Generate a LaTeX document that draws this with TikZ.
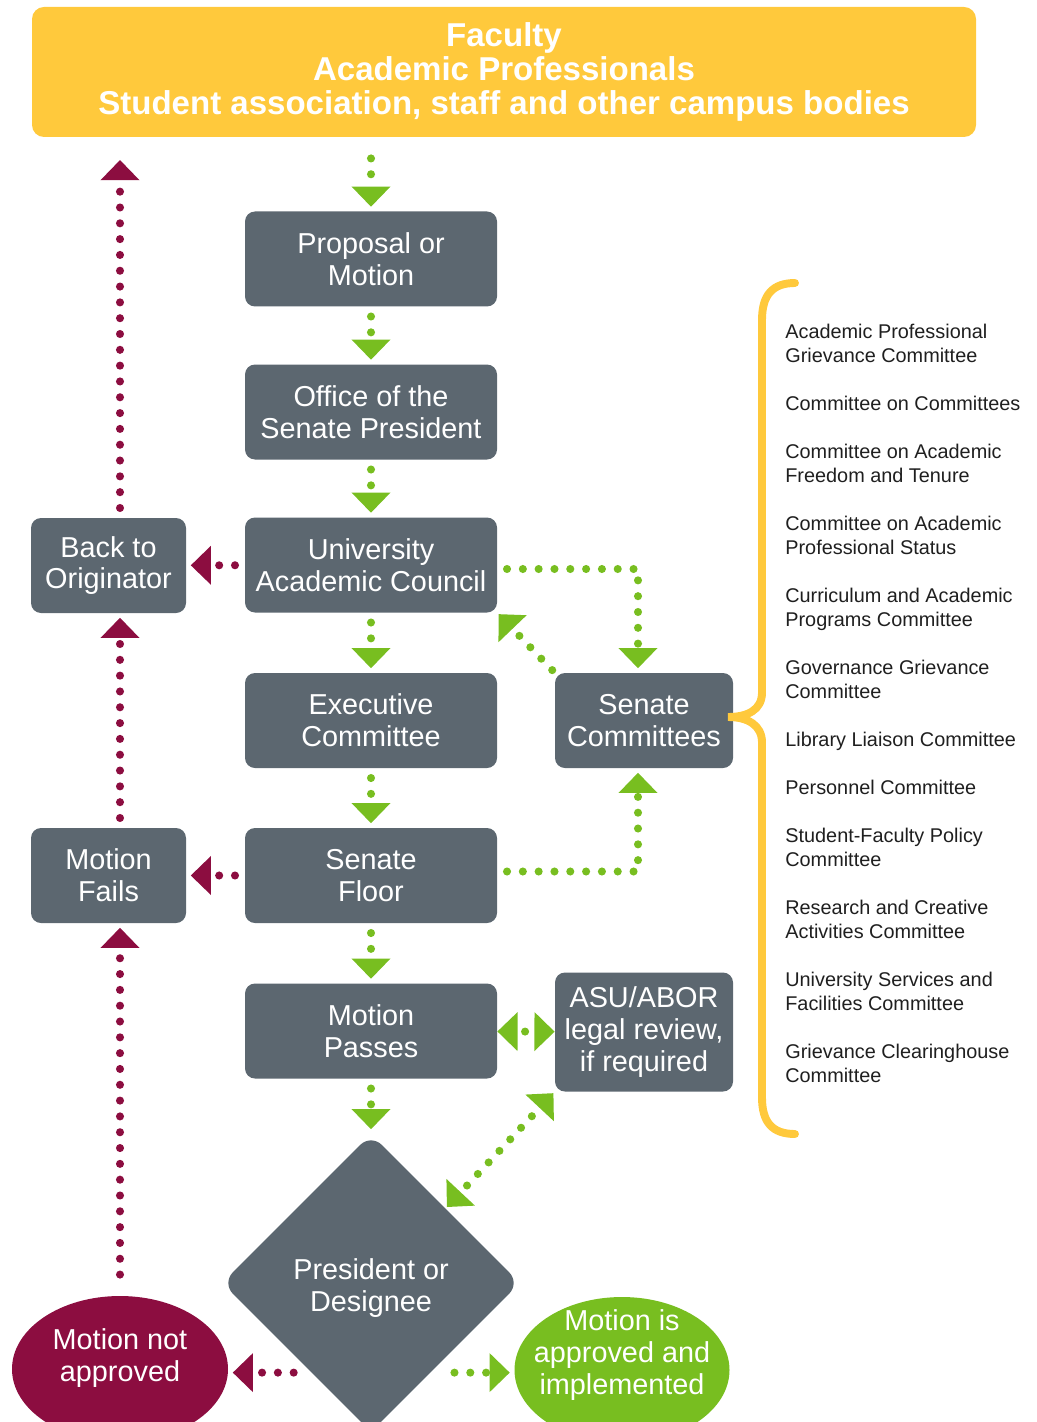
\documentclass[tikz,border=0pt]{standalone}
\usepackage{fontspec}
\setmainfont{Liberation Sans}
\usetikzlibrary{arrows.meta,shapes.geometric}

\definecolor{asugold}{HTML}{FFC93C}
\definecolor{asugray}{HTML}{5C6770}
\definecolor{asumaroon}{HTML}{8C0D40}
\definecolor{asugreen}{HTML}{78BE20}

\begin{document}
\begin{tikzpicture}[
    box/.style={fill=asugray, rounded corners=0.2cm, minimum width=5.04cm, minimum height=1.9cm,
        inner sep=0pt, text=white, align=center, font=\fontsize{16.4}{18.1}\selectfont},
    boxtext/.style={text=white, align=center, inner sep=0pt, font=\fontsize{16.4}{18.1}\selectfont},
    flow/.style={line width=4.6pt, dash pattern=on 0pt off 9pt, line cap=round,
        >={Triangle[width=21.5pt,length=11.5pt]}, ->, shorten <=5.5pt, shorten >=2.5pt},
    goflow/.style={flow, asugreen},
    stopflow/.style={flow, asumaroon}
]
    \useasboundingbox (0,0) rectangle (20.72,-28.44);

    % who can bring a motion
    \node[fill=asugold, rounded corners=0.24cm, minimum width=18.88cm, minimum height=2.6cm,
        text=white, align=center, font=\fontsize{18.8}{19.3}\selectfont\bfseries] (campus) at (10.08,-1.44)
        {Faculty\\Academic Professionals\\Student association, staff and other campus bodies};

    % main column
    \foreach \n/\y/\t in {prop/-5.18/{Proposal or\\Motion}, office/-8.24/{Office of the\\Senate President},
        uac/-11.30/{University\\Academic Council}, exec/-14.41/{Executive\\Committee},
        floor/-17.51/{Senate\\Floor}, passes/-20.62/{Motion\\Passes}}
        \node[box] (\n) at (7.42,\y) {\t};

    \node[box, minimum width=3.1cm] (back) at (2.17,-11.31) {Back to\\Originator};
    \node[box, minimum width=3.1cm] (fails) at (2.17,-17.51) {Motion\\Fails};
    \node[box, minimum width=3.56cm] (sc) at (12.88,-14.41) {Senate\\Committees};
    \node[box, minimum width=3.56cm, minimum height=2.38cm] (asu) at (12.88,-20.64) {ASU/ABOR\\legal review,\\if required};

    \node[diamond, fill=asugray, rounded corners=0.3cm, minimum width=5.96cm, minimum height=5.96cm,
        inner sep=0pt] (dm) at (7.42,-25.66) {};
    \node[boxtext] (dmtext) at (7.42,-25.76) {President or\\Designee};
    \node[ellipse, fill=asumaroon, minimum width=4.32cm, minimum height=2.92cm, inner sep=0pt] (nna) at (2.4,-27.38) {};
    \node[boxtext] (nnatext) at (2.4,-27.16) {Motion not\\approved};
    \node[ellipse, fill=asugreen, minimum width=4.3cm, minimum height=2.92cm, inner sep=0pt] (ok) at (12.44,-27.4) {};
    \node[boxtext] (oktext) at (12.44,-27.1) {Motion is\\approved and\\implemented};

    % senate committees
    \draw[asugold, line width=4.5pt, line cap=round] (15.9,-5.66) .. controls (15.45,-5.66) and (15.24,-5.9) .. (15.24,-6.4)
        -- (15.24,-13.85) .. controls (15.24,-14.2) and (14.95,-14.34) .. (14.56,-14.34)
        .. controls (14.95,-14.34) and (15.24,-14.5) .. (15.24,-14.85)
        -- (15.24,-21.95) .. controls (15.24,-22.45) and (15.45,-22.68) .. (15.9,-22.68);
    \node[anchor=north west, align=left, inner sep=0pt, text=black!88, font=\fontsize{11.3}{13.66}\selectfont] (list) at (15.7,-6.48)
        {Academic Professional\\Grievance Committee\\[13.66pt]
         Committee on Committees\\[13.66pt]
         Committee on Academic\\Freedom and Tenure\\[13.66pt]
         Committee on Academic\\Professional Status\\[13.66pt]
         Curriculum and Academic\\Programs Committee\\[13.66pt]
         Governance Grievance\\Committee\\[13.66pt]
         Library Liaison Committee\\[13.66pt]
         Personnel Committee\\[13.66pt]
         Student-Faculty Policy\\Committee\\[13.66pt]
         Research and Creative\\Activities Committee\\[13.66pt]
         University Services and\\Facilities Committee\\[13.66pt]
         Grievance Clearinghouse\\Committee};

    % green flow
    \draw[goflow, shorten <=12pt] (prop |- campus.south) -- (prop);
    \foreach \a/\b in {prop/office, office/uac, uac/exec, exec/floor, floor/passes, passes/dm}
        \draw[goflow] (\a) -- (\b);
    \draw[goflow] ([yshift=-0.08cm]uac.east) -| ([xshift=-0.12cm]sc.north);
    \draw[goflow, shorten <=2pt, shorten >=1pt] (sc.north west) -- (uac.south east);
    \draw[goflow] ([yshift=0.08cm]floor.east) -| ([xshift=-0.12cm]sc.south);
    \draw[goflow, <->, shorten <=0pt, shorten >=0pt, dash phase=4pt] (passes) -- (asu);
    \draw[goflow, <->, shorten <=1pt, shorten >=1pt, dash phase=3pt] (dm.north east) -- (asu.south west);

    % maroon flow
    \coordinate (orig) at (2.4,-3.2);
    \draw[stopflow] (uac) -- (back);
    \draw[stopflow] (floor) -- (fails);
    \draw[stopflow, shorten >=0pt] (back.north -| orig) -- (orig);
    \draw[stopflow] (fails.north -| orig) -- (back.south -| orig);
    \draw[stopflow, shorten <=12pt] (nna.north) -- (fails.south -| orig);

    % decision
    \path (dm.west) -- (dm.south) coordinate[pos=0.6] (dmsw);
    \path (dm.east) -- (dm.south) coordinate[pos=0.6] (dmse);
    \draw[stopflow, shorten <=10pt] (dmsw) -- (dmsw -| nna.east);
    \draw[goflow, shorten <=13.5pt] (dmse) -- (dmse -| ok.west);
\end{tikzpicture}
\end{document}
